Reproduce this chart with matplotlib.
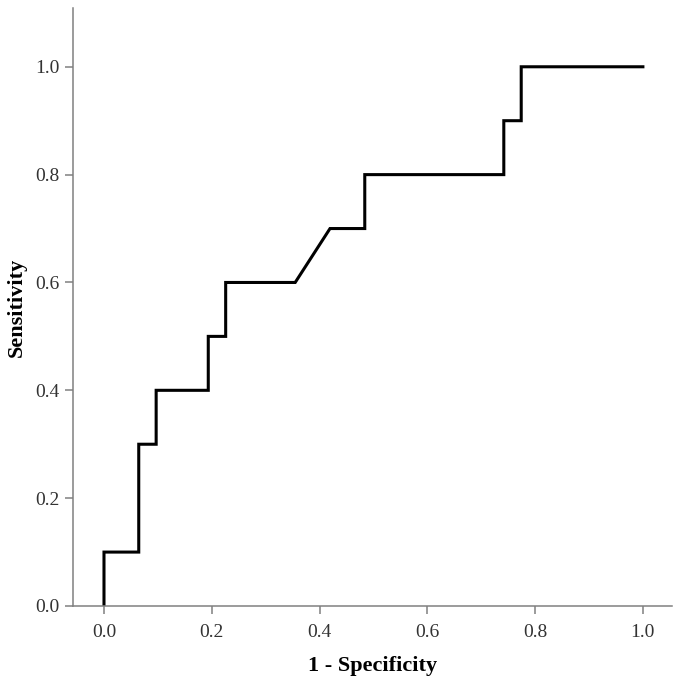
import matplotlib
matplotlib.use("Agg")
import matplotlib.pyplot as plt

# ROC curve points (1 - specificity, sensitivity)
fpr = [0.0, 0.0, 0.0645, 0.0645, 0.0968, 0.0968, 0.1935, 0.1935, 0.2258, 0.2258,
       0.3548, 0.4194, 0.4839, 0.4839, 0.7419, 0.7419, 0.7742, 0.7742, 1.0]
tpr = [0.0, 0.1, 0.1, 0.3, 0.3, 0.4, 0.4, 0.5, 0.5, 0.6,
       0.6, 0.7, 0.7, 0.8, 0.8, 0.9, 0.9, 1.0, 1.0]
ticks = [0.0, 0.2, 0.4, 0.6, 0.8, 1.0]
tick_labels = ["0.0", "0.2", "0.4", "0.6", "0.8", "1.0"]

plt.rcParams['font.family'] = ['Liberation Serif', 'DejaVu Serif']

fig = plt.figure(figsize=(6.81, 6.87), dpi=100)
ax = fig.add_axes([73/681, 81/687, (672-73)/681, (679-81)/687])

ax.plot(fpr, tpr, color='black', lw=2.2, solid_joinstyle='miter')

ax.set_xlim(-0.0575, 1.054)
ax.set_ylim(0, 1.109)
ax.set_xticks(ticks)
ax.set_xticklabels(tick_labels)
ax.set_yticks(ticks)
ax.set_yticklabels(tick_labels)

for s in ['top', 'right']:
    ax.spines[s].set_visible(False)
for s in ['left', 'bottom']:
    ax.spines[s].set_color('#808080')
    ax.spines[s].set_linewidth(1.1)
ax.tick_params(colors='#333333', labelsize=14, length=6, width=1.1, direction='out')
ax.tick_params(axis='both', color='#808080')
ax.tick_params(axis='x', pad=7)

ax.set_xlabel('1 - Specificity', fontsize=16, fontweight='bold', labelpad=11)
ax.set_ylabel('Sensitivity', fontsize=16, fontweight='bold', labelpad=6)

fig.savefig('out.png', dpi=100)
